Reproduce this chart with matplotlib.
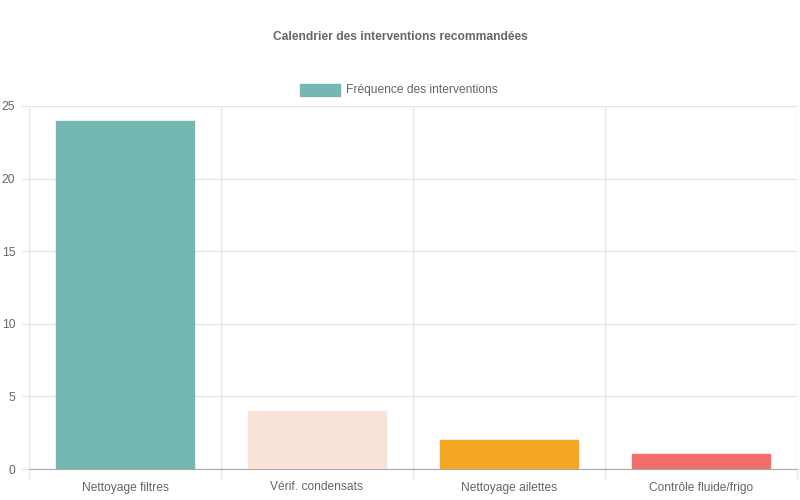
import numpy as np
import matplotlib.pyplot as plt
from matplotlib.patches import Rectangle

# Chart data
categories = ['Nettoyage filtres', 'Vérif. condensats', 'Nettoyage ailettes', 'Contrôle fluide/frigo']
frequences = [24, 4, 2, 1]
bar_colors = ['#74b8b1', '#f9e2d8', '#f5a623', '#f36d6d']
y_ticks = [0, 5, 10, 15, 20, 25]

plt.rcParams['font.family'] = ['Liberation Sans', 'DejaVu Sans']
txt = '#666666'
px = 72 / 100  # pixel -> point at dpi 100

fig = plt.figure(figsize=(8, 5), dpi=100)
ax = fig.add_axes([29 / 800, 1 - 469 / 500, 768 / 800, 363 / 500])

x = np.arange(len(categories))
ax.bar(x, frequences, width=0.72, color=bar_colors, edgecolor=bar_colors, linewidth=1, zorder=3)

ax.set_xlim(-0.5, len(categories) - 0.5)
ax.set_ylim(0, 25)
ax.set_yticks(y_ticks)
ax.set_yticklabels([str(v) for v in y_ticks])
ax.set_xticks(x)
ax.set_xticklabels(categories)
ax.set_xticks(np.arange(-0.5, len(categories)), minor=True)

ax.tick_params(axis='x', which='major', length=0, pad=9, labelsize=12 * px, labelcolor=txt)
ax.tick_params(axis='x', which='minor', length=8, color='#e6e6e6', width=1)
ax.tick_params(axis='y', length=6, color='#e6e6e6', pad=4, labelsize=12 * px, labelcolor=txt)

ax.grid(True, axis='y', color='#e6e6e6', linewidth=1, zorder=0)
ax.grid(True, axis='x', which='minor', color='#e6e6e6', linewidth=1, zorder=0)

for side in ['top', 'right']:
    ax.spines[side].set_visible(False)
ax.spines['left'].set_color('#e6e6e6')
ax.spines['bottom'].set_color('#aaaaaa')

# title and legend
fig.text(400 / 800, 1 - 37 / 500, 'Calendrier des interventions recommandées',
         ha='center', va='center', fontsize=12 * px, fontweight='bold', color=txt)
fig.patches.append(Rectangle((300 / 800, 1 - 96 / 500), 40 / 800, 12 / 500,
                             transform=fig.transFigure, facecolor=bar_colors[0],
                             edgecolor=bar_colors[0], figure=fig))
fig.text(346 / 800, 1 - 90 / 500, 'Fréquence des interventions',
         ha='left', va='center', fontsize=12 * px, color=txt)

fig.savefig('out.png', dpi=100)
